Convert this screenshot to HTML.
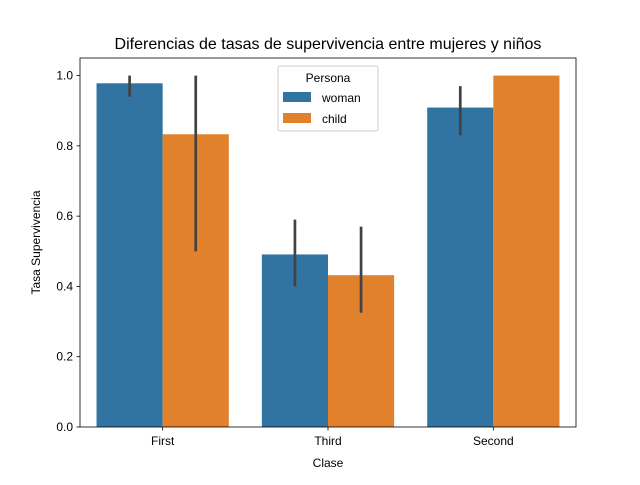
<!DOCTYPE html>
<html><head><meta charset="utf-8"><style>
body{margin:0;background:#fff}
svg{font-family:"Liberation Sans","DejaVu Sans",sans-serif}
</style></head><body>
<svg id="chart" width="640" height="480" viewBox="0 0 640 480">
<rect width="640" height="480" fill="#fff"/>
<text x="328" y="49" text-anchor="middle" font-size="16">Diferencias de tasas de supervivencia entre mujeres y niños</text>
<g id="bars"></g>
<g id="axes"></g>
<g>
<rect x="278" y="66" width="100" height="65" fill="#fff" fill-opacity="0.8" stroke="#ccc" rx="2"/>
<text x="328" y="82" text-anchor="middle" font-size="12">Persona</text>
<g><rect x="283" y="92" width="28" height="10" fill="#3274a1"/><text x="322" y="102" font-size="12">woman</text></g>
<g><rect x="283" y="113" width="28" height="10" fill="#e1812c"/><text x="322" y="123" font-size="12">child</text></g>
</g>
</svg>
<script>
const categories=["First","Third","Second"];
const womanValues=[0.978,0.491,0.909];
const womanLow=[0.94,0.40,0.83];
const womanHigh=[1.0,0.59,0.97];
const childValues=[0.833,0.432,1.0];
const childLow=[0.5,0.325,1.0];
const childHigh=[1.0,0.57,1.0];
const yTicks=[0,0.2,0.4,0.6,0.8,1.0];
const NS="http://www.w3.org/2000/svg";
const L=80,R=576,T=58,B=427,yMax=1.05;
const x=i=>L+(i+0.5)*(R-L)/categories.length;
const y=v=>B-v/yMax*(B-T);
const unit=(R-L)/categories.length;
function mk(tag,attrs,parent){const e=document.createElementNS(NS,tag);for(const k in attrs)e.setAttribute(k,attrs[k]);parent.appendChild(e);return e;}
const bars=document.getElementById('bars'),axes=document.getElementById('axes');
const series=[[womanValues,womanLow,womanHigh,"#3274a1","woman",-0.4],[childValues,childLow,childHigh,"#e1812c","child",0]];
series.forEach(s=>{
 categories.forEach((c,i)=>{
  const x0=x(i)+s[5]*unit;
  const r=mk('rect',{x:x0,y:y(s[0][i]),width:0.4*unit,height:B-y(s[0][i]),fill:s[3]},bars);
  
  
  const cx=x0+0.2*unit;
  const l=mk('line',{x1:cx,x2:cx,y1:y(s[1][i]),y2:y(s[2][i]),stroke:"#424242","stroke-width":2.7},bars);
  
  
 });
});
mk('rect',{x:L,y:T,width:R-L,height:B-T,fill:"none",stroke:"#000","stroke-width":0.8},axes);
yTicks.forEach(v=>{
 mk('line',{x1:L-3.5,x2:L,y1:y(v),y2:y(v),stroke:"#000","stroke-width":0.8},axes);
 const t=mk('text',{x:L-7,y:y(v)+4,"text-anchor":"end","font-size":12},axes);t.textContent=v.toFixed(1);
 
 
});
categories.forEach((c,i)=>{
 mk('line',{x1:x(i),x2:x(i),y1:B,y2:B+3.5,stroke:"#000","stroke-width":0.8},axes);
 const t=mk('text',{x:x(i),y:B+18,"text-anchor":"middle","font-size":12},axes);t.textContent=c;
 
 
});
const xt=mk('text',{x:(L+R)/2,y:467,"text-anchor":"middle","font-size":12},axes);xt.textContent="Clase";


const yt=mk('text',{x:0,y:0,"text-anchor":"middle","font-size":12,transform:"translate(40,"+((T+B)/2)+") rotate(-90)"},axes);yt.textContent="Tasa Supervivencia";


</script>
</body></html>
